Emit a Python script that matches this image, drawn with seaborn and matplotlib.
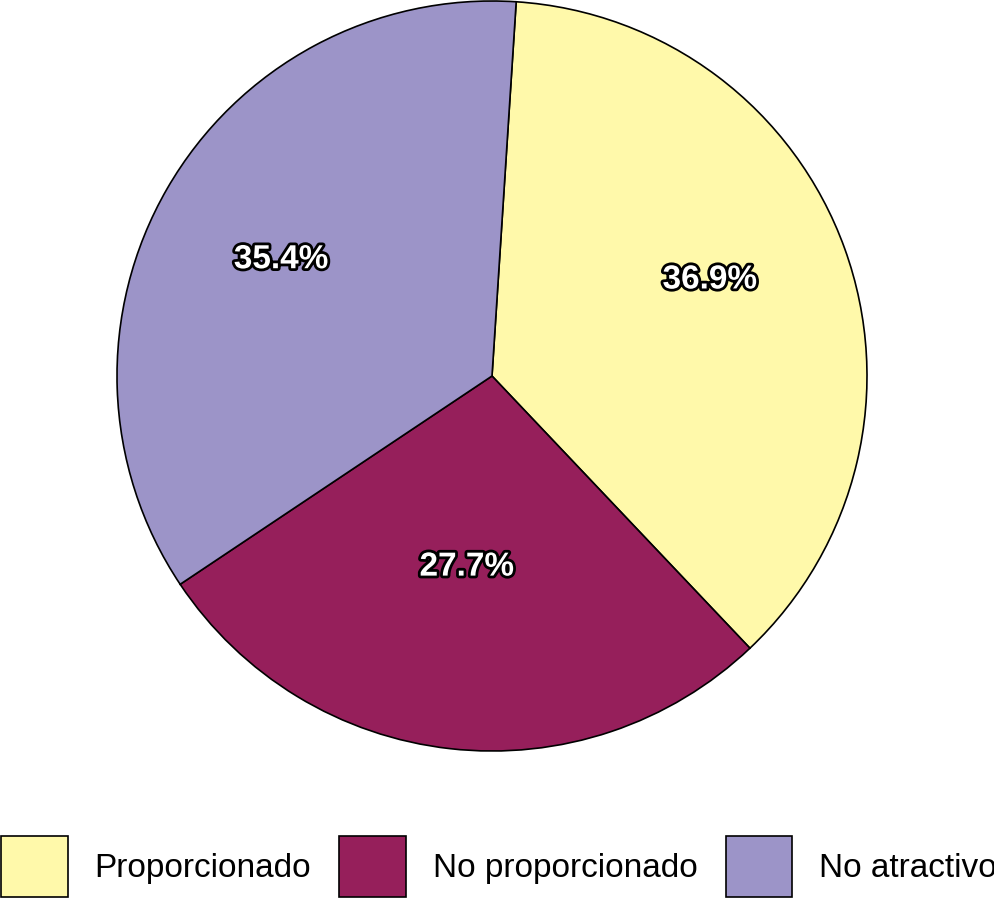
import matplotlib
matplotlib.use('Agg')
import matplotlib.pyplot as plt
import matplotlib.patheffects as pe
import seaborn as sns
import numpy as np

categories = ['Proporcionado', 'No proporcionado', 'No atractivo']
shares = [36.9, 27.7, 35.4]
colors = ['#FFF9AA', '#961F5B', '#9C94C8']

sns.set_style('white')
plt.rcParams['font.family'] = ['Liberation Sans', 'DejaVu Sans']
plt.rcParams['text.color'] = 'black'

fig = plt.figure(figsize=(9.95, 8.99), dpi=100)
# square axes holding the pie (radius 1 fills it)
ax = fig.add_axes([117 / 995, 148 / 899, 750 / 995, 750 / 899])

wedges, texts, autotexts = ax.pie(
    shares,
    colors=sns.color_palette(colors),
    startangle=86.3,
    counterclock=False,
    autopct='%1.1f%%',
    pctdistance=0.6,
    wedgeprops=dict(edgecolor='black', linewidth=1.2),
    textprops=dict(fontsize=24, fontweight='bold', color='white'),
)
ax.set_xlim(-1, 1)
ax.set_ylim(-1, 1)
ax.set_aspect('equal')
ax.axis('off')

# place labels near their wedge bisector (radius, angle tweak in degrees)
label_radius = [0.635, 0.514, 0.642]
label_turn = [3.9, -1.1, 1.1]
for w, t, r, d in zip(wedges, autotexts, label_radius, label_turn):
    ang = np.deg2rad((w.theta1 + w.theta2) / 2 + d)
    t.set_position((r * np.cos(ang), r * np.sin(ang)))
    t.set_path_effects([pe.withStroke(linewidth=4, foreground='black')])

fig.legend(wedges, categories,
           loc='lower left', bbox_to_anchor=(0.001, 0.002),
           ncol=3, frameon=False, fontsize=24,
           handlelength=2.0, handleheight=2.44,
           handletextpad=0.8, columnspacing=0.85,
           borderpad=0, borderaxespad=0, labelcolor='black')

fig.savefig('out.png', dpi=100)
